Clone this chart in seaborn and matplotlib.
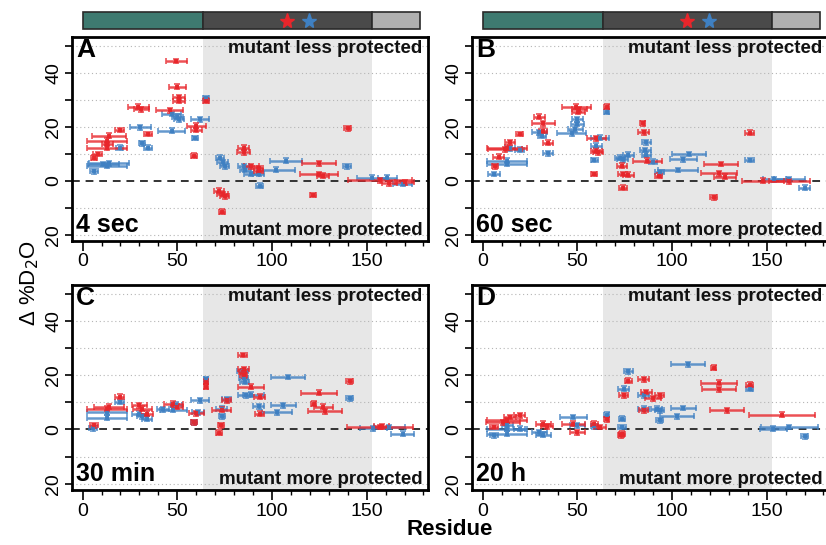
import matplotlib
matplotlib.use('Agg')
import matplotlib.pyplot as plt
from matplotlib.patches import Rectangle
from matplotlib import font_manager
import seaborn as sns
import pandas as pd

# ---------------- data (residue centre, half-length, delta %D2O) ----------------
A_red_res = [49.5, 50, 51, 51, 46, 65, 29.5, 31, 60, 60, 59, 19.5, 34.5, 14, 13, 13, 13, 8, 6, 85, 85, 89, 93, 93,
             125, 125, 127, 140, 121.5, 72, 74, 75, 73.5, 157, 162, 170]
A_red_hw = [5.5, 4.5, 3, 3, 7, 1.5, 5.5, 4, 5, 3, 1.5, 2.5, 2, 9, 10.5, 3, 10.5, 2.5, 1.5, 3, 3.5, 4, 2.5, 2.5,
            9, 10, 3, 2, 1.5, 2.5, 3, 2.5, 1.5, 17, 4, 5]
A_red_val = [44.3, 34.8, 30.9, 29.6, 26.0, 29.6, 27.4, 26.5, 20.4, 18.8, 9.3, 18.8, 17.3, 16.7, 14.8, 13.6, 12.3,
             9.9, 8.6, 12.3, 10.5, 5.3, 4.6, 3.7, 6.4, 2.5, 1.9, 19.4, -5.3, -3.7, -4.9, -5.8, -11.5, 0.2, -1.0, -0.5]
A_blue_res = [65, 47, 50, 51, 47, 62, 59.5, 30.5, 31.5, 34.5, 19.5, 14, 13, 11, 6, 72.5, 74, 75, 85, 86, 89, 93.5,
              93, 102, 107.5, 139.5, 153, 161, 169]
A_blue_hw = [1.5, 5, 3, 2.5, 7, 5, 1.5, 5.5, 1.5, 2, 2, 10.5, 10.5, 8, 2, 2, 3, 2.5, 3, 3, 4, 2, 3, 10, 8.5, 2, 8,
             5, 5]
A_blue_val = [30.5, 24.7, 23.7, 22.8, 18.5, 22.8, 15.8, 19.8, 13.8, 12.3, 12.3, 6.4, 5.6, 6.2, 3.5, 8.6, 6.8, 5.3,
              5.3, 4.0, 2.5, -1.9, 2.5, 4.1, 7.4, 5.3, 1.2, 1.2, -1.2]

B_red_res = [49.5, 51, 50.5, 65.5, 30, 32, 32, 34.5, 19.5, 14.5, 13, 12, 8.5, 6.5, 60, 60, 61, 59, 84.5, 85, 87,
             73.5, 74, 77, 74, 93, 126, 125, 128, 122, 141, 148, 162]
B_red_hw = [7.5, 4, 3.5, 1.5, 3, 6, 2, 2.5, 2, 2.5, 10.5, 9, 3, 1.5, 5, 3, 2.5, 1.5, 1.5, 3, 7.5, 2.5, 2.5, 3, 2, 2,
            9, 9.5, 6, 2, 2.5, 11, 11]
B_red_val = [27.4, 26.5, 25.6, 27.4, 23.7, 21.2, 18.5, 14.0, 17.3, 14.2, 12.3, 11.7, 8.9, 5.3, 15.7, 11.1, 10.5,
             2.5, 21.2, 18.0, 7.4, 5.6, 2.5, 2.2, -2.5, 1.9, 6.2, 2.7, 1.5, -6.2, 17.7, 0.0, -0.2]
B_blue_res = [65.5, 50, 50, 49, 47, 30, 31.5, 34.5, 14.5, 19.5, 13, 13, 6, 60, 62, 59, 72.5, 74, 77, 86.5, 86, 86.5,
              90, 93.5, 103, 106, 109, 141, 154, 162, 170]
B_blue_hw = [1.5, 3, 3.5, 4, 7.5, 4, 2, 2.5, 2.5, 2.5, 10.5, 10.5, 3, 3, 5, 2, 2.5, 3, 3, 2.5, 3, 2.5, 2, 2.5, 10.5,
             7, 9, 2.5, 6, 8, 3]
B_blue_val = [25.6, 22.8, 21.0, 19.1, 17.5, 17.9, 16.7, 10.2, 12.0, 11.5, 7.4, 6.2, 2.5, 13.0, 16.0, 7.7, 8.6, 8.0,
              9.6, 14.2, 11.4, 9.6, 7.0, 3.1, 4.0, 8.0, 9.9, 7.7, 0.6, 0.6, -2.5]

C_red_res = [84.5, 85, 84.5, 85, 89, 93.5, 93.5, 65, 65, 60, 59, 73, 72, 73.5, 76, 125, 122, 127, 128, 141, 157,
             158, 19.5, 14, 13, 6, 30, 31.5, 34, 48, 50]
C_red_hw = [2.5, 3, 2, 2, 7, 3, 2.5, 1, 1, 4, 1.5, 1.5, 1.5, 5, 2.5, 9.5, 1.5, 5, 9, 2, 17.5, 4, 2.5, 8, 10.5, 2, 4,
            5, 3, 5, 3]
C_red_val = [27.4, 22.2, 21.2, 20.0, 15.7, 12.0, 5.8, 17.5, 15.7, 6.0, 2.7, 1.5, -1.2, 7.3, 10.7, 13.6, 9.5, 8.3,
             6.7, 17.8, 0.9, 1.1, 12.0, 8.3, 7.7, 1.5, 8.9, 7.7, 5.8, 9.5, 8.3]
C_blue_res = [84.5, 85, 85.5, 86.5, 89, 93, 65, 62, 61, 59, 73.5, 73.5, 76, 108.5, 106, 102.5, 141, 153.5, 162, 169,
              19.5, 13, 13, 5.5, 30, 31.5, 34, 49.5, 48, 42.5]
C_blue_hw = [3, 2.5, 2.5, 2, 7, 3, 1, 5, 3, 1.5, 3, 1.5, 2.5, 9, 6.5, 8, 2, 7, 8, 6, 2.5, 10.5, 10.5, 2, 4, 3, 2.5,
             3, 7, 3]
C_blue_val = [21.5, 18.8, 17.5, 12.6, 12.8, 8.6, 18.5, 10.7, 6.4, 2.7, 7.7, 4.9, 11.1, 19.3, 8.9, 6.4, 11.4, 0.5,
              0.9, -1.6, 10.1, 6.4, 4.3, 0.5, 5.8, 4.9, 4.0, 9.1, 7.3, 7.4]

D_red_res = [122, 125, 125, 141, 129, 158, 77, 74.5, 85, 86.5, 90, 93.5, 85, 73.5, 73, 65.5, 59, 62, 48, 50, 32, 34,
             13, 11, 19.5, 14.5, 6]
D_red_hw = [1.5, 9.5, 9, 2, 9, 17.5, 2, 2.5, 3, 3, 4, 2.5, 2.5, 1.5, 1.5, 1.5, 2, 3, 6, 4, 4, 3, 10.5, 9, 3, 3, 2]
D_red_val = [22.7, 17.2, 14.8, 16.5, 7.0, 5.4, 18.0, 12.6, 18.4, 13.8, 11.4, 12.6, 7.0, -1.6, -2.2, 3.7, 2.1, 0.9,
             2.1, -1.0, 2.1, 1.2, 3.3, 2.7, 5.2, 4.6, 0.9]
D_blue_res = [108.5, 77, 74.5, 73.5, 73.5, 85, 85, 92, 93.5, 93.5, 106, 102.5, 141, 153.5, 162, 170, 65.5, 59, 48,
              50, 30, 32, 13, 13, 6, 19.5, 13]
D_blue_hw = [9, 2.5, 3, 1.5, 2, 3, 3, 3, 2.5, 2, 6.5, 9, 2, 7, 15, 2, 1.5, 2, 7, 4, 4, 4, 10.5, 10.5, 2, 3, 3]
D_blue_val = [24.0, 21.5, 15.0, 4.0, 0.9, 12.6, 7.7, 7.7, 7.0, 3.3, 7.9, 4.8, 15.0, 0.2, 0.9, -2.5, 5.4, 1.2, 4.6,
              1.5, -1.0, -2.0, 0.2, -1.6, -2.2, 0.2, 1.5]

panel_letters = ['A', 'B', 'C', 'D']
panel_times = ['4 sec', '60 sec', '30 min', '20 h']
x_ticks = [0, 50, 100, 150]
y_ticks = [-20, -10, 0, 10, 20, 30, 40, 50]
y_tick_labels = ['20', '', '0', '', '20', '', '40', '']
domain_edges = [0, 63.7, 153, 178]
star_positions = [107.7, 119.7]

panels = {
    'A': (A_red_res, A_red_hw, A_red_val, A_blue_res, A_blue_hw, A_blue_val),
    'B': (B_red_res, B_red_hw, B_red_val, B_blue_res, B_blue_hw, B_blue_val),
    'C': (C_red_res, C_red_hw, C_red_val, C_blue_res, C_blue_hw, C_blue_val),
    'D': (D_red_res, D_red_hw, D_red_val, D_blue_res, D_blue_hw, D_blue_val),
}

rows = []
for p, (rr, rh, rv, br, bh, bv) in panels.items():
    for r, h, v in zip(br, bh, bv):
        rows.append(dict(panel=p, group='blue', res=r, hw=h, val=v))
    for r, h, v in zip(rr, rh, rv):
        rows.append(dict(panel=p, group='red', res=r, hw=h, val=v))
df = pd.DataFrame(rows)

# ---------------- style ----------------
sns.set_theme(style='white')
plt.rcParams['font.family'] = ['Liberation Sans', 'DejaVu Sans']
plt.rcParams['text.color'] = 'black'
names = {f.name for f in font_manager.fontManager.ttflist}
tick_family = 'Liberation Sans Narrow' if 'Liberation Sans Narrow' in names else 'Liberation Sans'

RED = '#e8262b'
BLUE = '#3f80c2'
palette = {'red': RED, 'blue': BLUE}

W, H = 826, 545
fig = plt.figure(figsize=(W / 100, H / 100), dpi=100)

def fr(x0, y0, x1, y1):
    return [x0 / W, 1 - y1 / H, (x1 - x0) / W, (y1 - y0) / H]

boxes = {
    'A': fr(72, 37, 428, 241),
    'B': fr(472, 37, 828, 241),
    'C': fr(72, 285, 428, 490),
    'D': fr(472, 285, 828, 490),
}
XLIM = (-5.6, 182.4)
YLIM = (-22.3, 53.2)

for letter, tlabel in zip(panel_letters, panel_times):
    ax = fig.add_axes(boxes[letter])
    sub = df[df.panel == letter]
    ax.axvspan(63.5, 153, color='#e7e7e7', zorder=0, lw=0)
    for yv in y_ticks:
        if yv != 0:
            ax.axhline(yv, ls=(0, (1, 2.5)), color='#b5b5b5', lw=0.8, zorder=0.5)
    ax.axhline(0, ls=(0, (4, 3)), color='#333333', lw=1.4, zorder=1)
    for grp in ['blue', 'red']:
        g = sub[sub.group == grp]
        ax.errorbar(g.res, g.val, xerr=g.hw, yerr=0.9, fmt='none', ecolor=palette[grp],
                    elinewidth=1.8, capsize=2.5, capthick=1.2, alpha=0.8, zorder=2)
        sns.scatterplot(data=g, x='res', y='val', color=palette[grp], marker='s', s=8,
                        linewidth=0, legend=False, ax=ax, zorder=3, alpha=0.9)
    ax.set_xlim(*XLIM)
    ax.set_ylim(*YLIM)
    ax.set_xlabel('')
    ax.set_ylabel('')
    ax.set_xticks(x_ticks)
    ax.set_xticks(list(range(0, 181, 10)), minor=True)
    ax.set_yticks(y_ticks)
    ax.set_yticklabels(y_tick_labels, rotation=90, va='center')
    ax.tick_params(axis='x', which='major', direction='out', length=7, width=1.2, color='black',
                   labelsize=14, pad=2, bottom=True, labelcolor='black')
    ax.tick_params(axis='x', which='minor', direction='out', length=3.5, width=1.0, color='black', bottom=True)
    ax.tick_params(axis='y', which='major', direction='out', length=5, width=1.2, color='black',
                   labelsize=14, pad=2, left=True, labelcolor='black')
    for lab in ax.get_xticklabels() + ax.get_yticklabels():
        lab.set_fontfamily(tick_family)
    for s in ax.spines.values():
        s.set_linewidth(2.0)
        s.set_color('black')
    ax.text(0.012, 0.995, letter, transform=ax.transAxes, ha='left', va='top', fontsize=19,
            fontweight='bold', color='black', zorder=5)
    ax.text(0.012, 0.02, tlabel, transform=ax.transAxes, ha='left', va='bottom', fontsize=18,
            fontweight='bold', color='black', zorder=5)
    ax.text(0.985, 0.985, 'mutant less protected', transform=ax.transAxes, ha='right', va='top',
            fontsize=13.5, fontweight='bold', color='#111111', zorder=5)
    ax.text(0.985, 0.01, 'mutant more protected', transform=ax.transAxes, ha='right', va='bottom',
            fontsize=13.5, fontweight='bold', color='#111111', zorder=5)

# domain bars on top
for x0 in (72, 472):
    bax = fig.add_axes(fr(x0, 12, x0 + 356, 29))
    bax.set_xlim(*XLIM)
    bax.set_ylim(0, 1)
    bax.axis('off')
    cols = ['#3e7a70', '#4a4a4a', '#b0b0b0']
    for i, c in enumerate(cols):
        bax.add_patch(Rectangle((domain_edges[i], 0), domain_edges[i + 1] - domain_edges[i], 1,
                                facecolor=c, edgecolor='#2a2a2a', lw=1.2, clip_on=False))
    bax.plot([star_positions[0]], [0.5], marker='*', ms=11, color=RED, mec=RED, ls='none', clip_on=False)
    bax.plot([star_positions[1]], [0.5], marker='*', ms=11, color=BLUE, mec=BLUE, ls='none', clip_on=False)

fig.text(0.036, 0.48, 'Δ %D$_2$O', rotation=90, ha='center', va='center', fontsize=16, color='black')
fig.text(0.545, 0.028, 'Residue', ha='center', va='center', fontsize=16, fontweight='bold', color='black')

fig.savefig('out.png', dpi=100)
